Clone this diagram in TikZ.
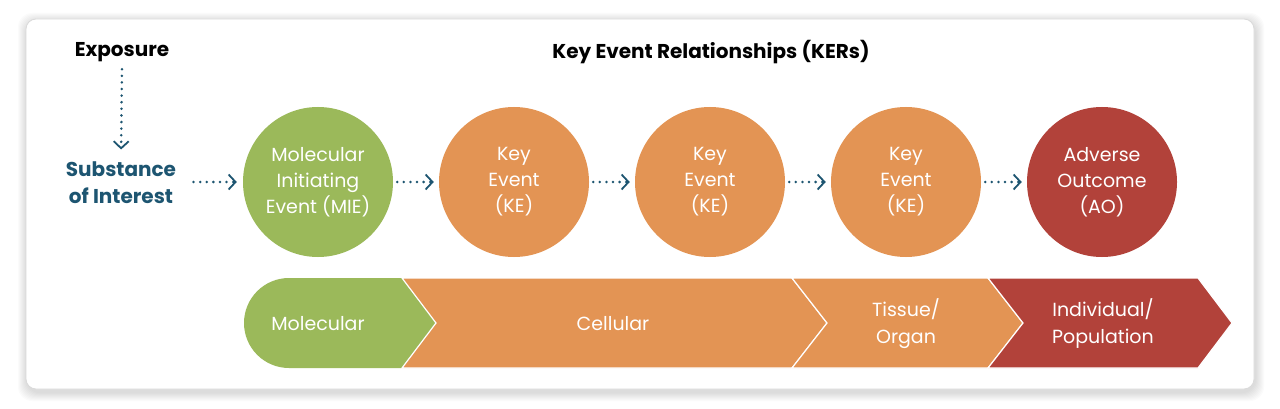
\documentclass[tikz,border=0pt]{standalone}
\usepackage{fontspec}
\setmainfont{Poppins}
\usetikzlibrary{arrows.meta}
\definecolor{cgreen}{RGB}{155,185,90}
\definecolor{corange}{RGB}{227,148,84}
\definecolor{cred}{RGB}{178,66,58}
\definecolor{cteal}{RGB}{29,85,113}
\definecolor{cborder}{RGB}{218,218,218}
\tikzset{
  evt/.style={circle, minimum size=150pt, inner sep=0pt, text=white, align=center,
    font=\fontsize{19}{26}\selectfont},
  dotarrow/.style={draw=cteal, line width=2.8pt, line cap=round, dash pattern=on 0pt off 6.6pt,
    -{Straight Barb[length=7pt,width=15pt,line width=1.8pt]}},
  seg/.style={draw=white, line width=1.2pt, line join=miter},
  seglabel/.style={text=white, align=center, font=\fontsize{19}{27}\selectfont},
  title/.style={font=\bfseries\fontsize{20}{27}\selectfont}
}
\begin{document}
\begin{tikzpicture}[x=1pt,y=-1pt]
\useasboundingbox (0,0) rectangle (1280,409);
% shadow
\foreach \i in {1,...,9}{
  \fill[black, opacity=0.014, rounded corners=14pt] (26-\i+1,19-\i+3) rectangle (1254+\i+1,389+\i+3);
}
\filldraw[fill=white, draw=cborder, line width=0.8pt, rounded corners=10pt] (26,19) rectangle (1254,389);

% titles
\node[title] (exp) at (122,52) {Exposure};
\node[title] (ker) at (711,52) {Key Event Relationships (KERs)};
\node[title, text=cteal, align=center] (sub) at (121,183) {Substance\\of Interest};

% circles
\node[evt, fill=cgreen] (mie) at (318,182) {Molecular\\Initiating\\Event (MIE)};
\node[evt, fill=corange] (ke1) at (514,182) {Key\\Event\\(KE)};
\node[evt, fill=corange] (ke2) at (710,182) {Key\\Event\\(KE)};
\node[evt, fill=corange] (ke3) at (906,182) {Key\\Event\\(KE)};
\node[evt, fill=cred] (ao) at (1102,182) {Adverse\\Outcome\\(AO)};

% arrows
\draw[dotarrow, shorten <=4pt, shorten >=9pt] (exp.south) -- (sub.north);
\draw[dotarrow, shorten <=14pt, shorten >=6pt] (sub.east |- mie.west) -- (mie.west);
\draw[dotarrow, shorten <=4pt, shorten >=5pt] (mie) -- (ke1);
\draw[dotarrow, shorten <=4pt, shorten >=5pt] (ke1) -- (ke2);
\draw[dotarrow, shorten <=4pt, shorten >=5pt] (ke2) -- (ke3);
\draw[dotarrow, shorten <=4pt, shorten >=5pt] (ke3) -- (ao);

% bar segments
\fill[cgreen] (402,278) -- (436,323) -- (402,368) -- (289,368) arc (90:270:45) -- cycle;
\filldraw[fill=corange, seg] (402,278) -- (792,278) -- (827,323) -- (792,368) -- (402,368) -- (436,323) -- cycle;
\filldraw[fill=corange, seg] (792,278) -- (988,278) -- (1023,323) -- (988,368) -- (792,368) -- (827,323) -- cycle;
\filldraw[fill=cred, seg] (988,278) -- (1198,278) -- (1232,323) -- (1198,368) -- (988,368) -- (1023,323) -- cycle;
\fill[white] (401,276) rectangle (1240,277.4);
\fill[white] (401,368.6) rectangle (1240,370);

\node[seglabel] (lmol) at (318,324) {Molecular};
\node[seglabel] (lcel) at (613,324) {Cellular};
\node[seglabel] (ltis) at (906,324) {Tissue/\\Organ};
\node[seglabel] (lind) at (1103,324) {Individual/\\Population};
\end{tikzpicture}
\end{document}
